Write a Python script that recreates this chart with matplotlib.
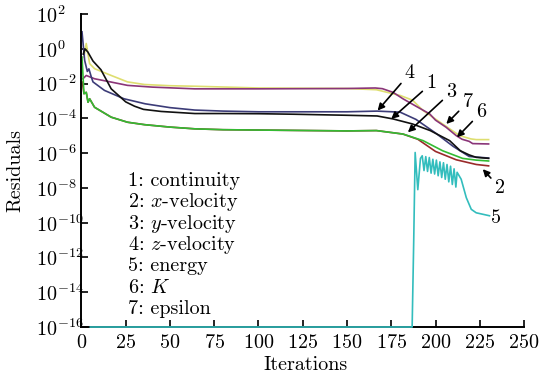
import numpy as np
import matplotlib
matplotlib.use("Agg")
import matplotlib.pyplot as plt

plt.rcParams['font.family'] = 'cmr10'
plt.rcParams['mathtext.fontset'] = 'cm'
plt.rcParams['axes.formatter.use_mathtext'] = True
plt.rcParams['font.size'] = 14.5

# residual histories (iteration, log10 residual)
it_cont = [1, 2, 3.6, 6.5, 11, 16.8, 25, 30, 35, 45, 64, 80, 100, 120, 150, 167, 176, 187, 197, 208, 214, 219, 223, 230]
lg_cont = [-0.3, 0, -0.18, -0.7, -1.2, -2.3, -3.05, -3.3, -3.48, -3.6, -3.72, -3.72, -3.73, -3.76, -3.82, -3.86, -4.03, -4.32, -4.7, -5.28, -5.86, -6.1, -6.24, -6.3]

it_xvel = [0.5, 1.4, 2.7, 3.7, 4.6, 7.4, 16.8, 26, 35.6, 50, 64, 80, 100, 150, 166.6, 181.6, 190, 200, 211.7, 223, 230]
lg_xvel = [-1.91, -2.58, -2.5, -3.07, -2.87, -3.36, -3.93, -4.22, -4.36, -4.5, -4.6, -4.65, -4.67, -4.72, -4.7, -4.9, -5.2, -5.9, -6.38, -6.65, -6.73]

it_yvel = [0.3, 1.4, 2.7, 3.7, 4.6, 7.4, 16.8, 26, 35.6, 50, 64, 80, 100, 150, 166.6, 181.6, 193, 204, 215.3, 223, 230]
lg_yvel = [-0.47, -2.58, -2.5, -3.07, -2.87, -3.36, -3.93, -4.22, -4.36, -4.5, -4.6, -4.65, -4.67, -4.72, -4.7, -4.9, -5.28, -5.86, -6.3, -6.4, -6.45]

it_zvel = [0.3, 1.8, 3.3, 4.2, 5.5, 6.5, 13, 24, 36, 50, 64, 80, 100, 150, 167, 180, 189, 200, 210, 219, 230]
lg_zvel = [0.98, -0.66, -1.3, -1.15, -1.6, -1.9, -2.39, -2.87, -3.16, -3.38, -3.52, -3.58, -3.62, -3.62, -3.58, -3.64, -4.06, -4.84, -5.61, -6.19, -6.28]

it_energy = [5, 186.8, 187.7, 188.5, 190, 191.5,
             192.5, 193.5, 194.5, 195.5, 196.5, 197.5, 198.5, 199.5, 200.5, 201.5,
             202.5, 203.5, 204.5, 205.5, 206.5, 207.5, 208.5, 209.5, 210.5, 211.5,
             212.2, 214.5, 217.4, 220.2, 223, 230.5]
lg_energy = [-16, -16, -11.0, -5.96, -8.1, -6.3,
             -6.15, -7.0, -6.2, -7.05, -6.25, -7.15, -6.35, -7.2, -6.4, -7.3,
             -6.5, -7.4, -6.55, -7.5, -6.65, -7.65, -6.75, -7.8, -6.9, -7.95,
             -7.1, -7.5, -8.56, -9.23, -9.43, -9.6]

it_k = [0.8, 2.7, 7.4, 16.8, 26, 40, 64, 100, 150, 166, 170, 176, 181.6, 189, 196.7, 200, 206, 211.7, 215, 219, 221, 230]
lg_k = [-1.72, -1.53, -1.72, -1.91, -2.1, -2.2, -2.3, -2.3, -2.28, -2.25, -2.29, -2.5, -2.87, -3.3, -3.74, -4.1, -4.51, -4.99, -5.2, -5.32, -5.45, -5.47]

it_eps = [1.4, 2.7, 4.6, 7.4, 16.8, 26, 35.6, 50, 64, 100, 150, 166.6, 180, 187, 193, 204, 213.6, 220, 223, 230]
lg_eps = [-0.47, 0.31, -0.85, -1.14, -1.53, -1.9, -2.05, -2.12, -2.15, -2.25, -2.28, -2.35, -2.68, -2.95, -3.55, -4.32, -4.99, -5.18, -5.22, -5.22]

legend_lines = ['1: continuity', '2: $x$-velocity', '3: $y$-velocity', '4: $z$-velocity',
                '5: energy', '6: $K$', '7: epsilon']

# label, text position, arrow head  (iteration, log10)
callouts = [('4', (185.4, -1.41), (167.3, -3.55)),
            ('1', (197.6, -1.99), (175.0, -4.03)),
            ('3', (208.9, -2.49), (184.4, -4.80)),
            ('7', (218.1, -3.07), (206.1, -4.32)),
            ('6', (225.8, -3.65), (212.1, -5.09)),
            ('2', (236.2, -7.98), (226.7, -6.92))]

fig = plt.figure(figsize=(5.41, 3.77), dpi=100)
ax = fig.add_axes([0.1506, 0.1326, 0.818, 0.830])

lw = 1.2
ax.plot(it_energy, 10.0 ** np.array(lg_energy), color='#33BDBD', lw=lw, clip_on=False, zorder=3)
ax.plot(it_eps, 10.0 ** np.array(lg_eps), color='#DEDE70', lw=lw)
ax.plot(it_k, 10.0 ** np.array(lg_k), color='#8A3578', lw=lw)
ax.plot(it_xvel, 10.0 ** np.array(lg_xvel), color='#9A2A2A', lw=lw)
ax.plot(it_yvel, 10.0 ** np.array(lg_yvel), color='#33BB33', lw=lw)
ax.plot(it_zvel, 10.0 ** np.array(lg_zvel), color='#3C3C78', lw=lw)
ax.plot(it_cont, 10.0 ** np.array(lg_cont), color='#111111', lw=lw)

ax.set_yscale('log')
ax.set_xlim(0, 250)
ax.set_ylim(1e-16, 1e2)
ax.set_xticks(np.arange(0, 251, 25))
ax.set_yticks([10.0 ** e for e in range(-16, 3, 2)])
ax.minorticks_off()
ax.spines['top'].set_visible(False)
ax.spines['right'].set_visible(False)
for s in ['left', 'bottom']:
    ax.spines[s].set_linewidth(1.4)
ax.tick_params(direction='in', length=5, width=1.2)
ax.tick_params(axis='y', pad=33)
ax.tick_params(axis='x', pad=5)
for lab in ax.get_yticklabels():
    lab.set_horizontalalignment('left')

ax.set_xlabel('Iterations')
ax.xaxis.set_label_coords(0.506, -0.092)
ax.set_ylabel('Residuals', va='center')
ax.yaxis.set_label_coords(-0.150, 0.5)

for i, t in enumerate(legend_lines):
    ax.text(0.106, 0.467 - i * 0.0684, t, transform=ax.transAxes, va='center', ha='left')

for lab, (tx, ty), (hx, hy) in callouts:
    ax.annotate(lab, xy=(hx, 10.0 ** hy), xytext=(tx, 10.0 ** ty), ha='center', va='center',
                arrowprops=dict(arrowstyle='-|>', color='black', lw=1.2, mutation_scale=10,
                                shrinkA=1, shrinkB=0))
ax.text(234.3, 10.0 ** -9.72, '5', ha='center', va='center')

fig.savefig('out.png', dpi=100)
